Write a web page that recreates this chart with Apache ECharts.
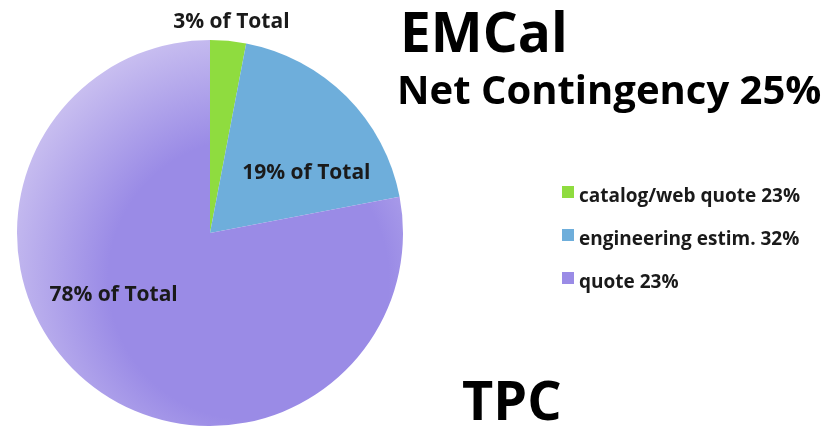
<!DOCTYPE html>
<html>
<head>
<meta charset="utf-8">
<script src="https://cdn.jsdelivr.net/npm/echarts@6/dist/echarts.min.js"></script>
<style>
  html, body { margin: 0; padding: 0; background: #ffffff; }
  #chart { width: 825px; height: 426px; }
</style>
</head>
<body>
<div id="chart"></div>
<script>
// Cost basis breakdown for the EMCal estimate
const categories = ['catalog/web quote 23%', 'engineering estim. 32%', 'quote 23%'];
const shares = [3, 19, 78];
const sliceLabels = ['3% of Total', '19% of Total', '78% of Total'];
const titleLines = ['EMCal', 'Net Contingency 25%', 'TPC'];

const FONT = '"Open Sans", "Liberation Sans", sans-serif';

const baseColors = ['#8fdc3f', '#6eaedb', '#9a8be6'];
const sliceColors = [
  baseColors[0],
  baseColors[1],
  {
    type: 'radial', x: 0.6, y: 0.62, r: 0.66,
    colorStops: [
      { offset: 0, color: baseColors[2] },
      { offset: 0.55, color: baseColors[2] },
      { offset: 1, color: '#c9bff0' }
    ]
  }
];
// label shift from the default inside anchor of each slice
const labelShift = [[12, -112], [26, 10], [-33, -15]];

// legend swatch: 12px square sitting in the upper part of a taller box,
// so it rides slightly above the text's centre line
const swatch = 'path://M0,0L12,0L12,12L0,12Z M0,21L0.01,21L0.01,21.01Z';

const chart = echarts.init(document.getElementById('chart'), null, { renderer: 'canvas' });

chart.setOption({
  backgroundColor: '#ffffff',
  animation: false,
  title: [
    { text: titleLines[0], left: 395, top: 4,
      textStyle: { fontFamily: FONT, fontSize: 55, fontWeight: 'bold', color: '#000' } },
    { text: titleLines[1], left: 392, top: 68,
      textStyle: { fontFamily: FONT, fontSize: 40, fontWeight: 'bold', color: '#000' } },
    { text: titleLines[2], left: 457, top: 373,
      textStyle: { fontFamily: FONT, fontSize: 54, fontWeight: 'bold', color: '#000' } }
  ],
  legend: {
    orient: 'vertical',
    left: 557, top: 181,
    icon: swatch, itemWidth: 12, itemHeight: 21,
    itemGap: 22,
    data: categories.map((name, i) => ({ name, itemStyle: { color: baseColors[i] } })),
    textStyle: { fontFamily: FONT, fontSize: 19, lineHeight: 21, fontWeight: 'bold', color: '#1a1a1a' }
  },
  series: [{
    type: 'pie',
    center: [210, 233],
    radius: [0, 193],
    startAngle: 90,
    clockwise: true,
    silent: true,
    itemStyle: { borderWidth: 0 },
    labelLine: { show: false },
    data: categories.map((name, i) => ({
      name,
      value: shares[i],
      itemStyle: { color: sliceColors[i], borderWidth: 0 },
      label: {
        show: true,
        position: 'inside',
        formatter: sliceLabels[i],
        offset: labelShift[i],
        fontFamily: FONT, fontSize: 21, fontWeight: 'bold', color: '#1a1a1a'
      }
    }))
  }]
});
</script>
</body>
</html>
